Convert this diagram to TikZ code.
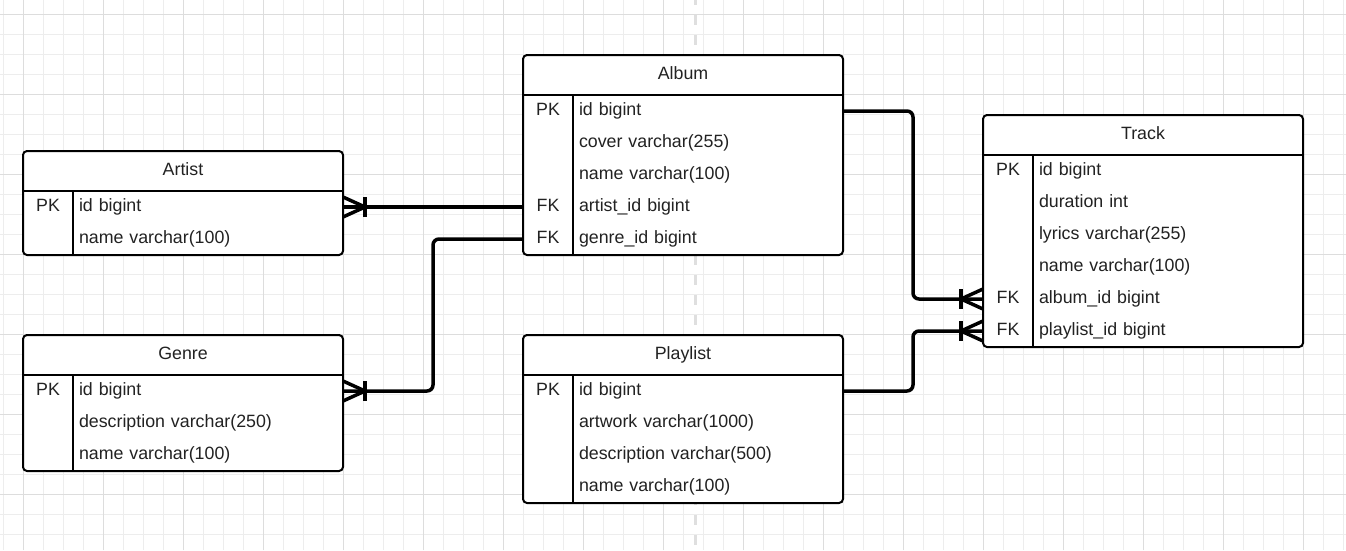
\documentclass[tikz,border=0pt]{standalone}
\usepackage{fontspec}
\setmainfont{Liberation Sans}
\usetikzlibrary{positioning,calc}

\definecolor{gridminor}{HTML}{EDEDED}
\definecolor{gridmajor}{HTML}{DDDDDD}
\definecolor{ink}{HTML}{222222}

\tikzset{
  tbl/.style={draw, fill=white, line width=2pt, rounded corners=4pt,
    minimum width=320, inner sep=0, outer sep=0, anchor=north west},
  title/.style={minimum width=320, minimum height=40, inner sep=0,
    outer sep=0, text height=12.5, text depth=3.5},
  key/.style={minimum width=50, minimum height=32, inner sep=0,
    outer sep=0, text height=12.5, text depth=3.5},
  field/.style={minimum height=32, text width=258, inner xsep=6,
    inner ysep=0, outer sep=0, align=left, text height=12.5, text depth=3.5},
  rule/.style={line width=2pt},
  link/.style={line width=3.5pt, rounded corners=6pt},
  crowfoot/.pic={
    \draw[line width=3.5pt] (0,-10) -- (22,0) -- (0,10);
    \draw[line width=3.5pt] (22,-10) -- (22,10);
  },
}

\begin{document}
\begin{tikzpicture}[x=1pt, y=-1pt, font=\fontsize{17.8}{21}\selectfont, text=ink]
  \useasboundingbox (0,0) rectangle (1346,550);

  % background grid
  \begin{scope}[shift={(3,14)}]
    \draw[gridminor, line width=1pt, step=20pt] (-3,-14) grid (1343,536);
  \end{scope}
  \begin{scope}[shift={(23,14)}]
    \draw[gridmajor, line width=1pt, step=80pt] (-23,-14) grid (1323,536);
  \end{scope}
  \draw[gray!25, line width=3pt, dash pattern=on 10pt off 10pt, dash phase=5pt]
    (695,0) -- (695,550);

  % Artist
  \node[tbl, minimum height=104] (artist) at (23,151) {};
  \node[title, below=0 of artist.north] (artistT) {Artist};
  \node[key, anchor=north west] (ar1k) at (artistT.south west) {PK};
  \node[field, right=0 of ar1k] (ar1) {id bigint};
  \node[key, below=0 of ar1k] (ar2k) {};
  \node[field, right=0 of ar2k] (ar2) {name varchar(100)};
  \draw[rule] (artistT.south west) -- (artistT.south east);
  \draw[rule] (ar1k.north east) -- (ar2k.south east);

  % Genre
  \node[tbl, minimum height=136] (genre) at (23,335) {};
  \node[title, below=0 of genre.north] (genreT) {Genre};
  \node[key, anchor=north west] (gn1k) at (genreT.south west) {PK};
  \node[field, right=0 of gn1k] (gn1) {id bigint};
  \node[key, below=0 of gn1k] (gn2k) {};
  \node[field, right=0 of gn2k] (gn2) {description varchar(250)};
  \node[key, below=0 of gn2k] (gn3k) {};
  \node[field, right=0 of gn3k] (gn3) {name varchar(100)};
  \draw[rule] (genreT.south west) -- (genreT.south east);
  \draw[rule] (gn1k.north east) -- (gn3k.south east);

  % Album
  \node[tbl, minimum height=200] (album) at (523,55) {};
  \node[title, below=0 of album.north] (albumT) {Album};
  \node[key, anchor=north west] (al1k) at (albumT.south west) {PK};
  \node[field, right=0 of al1k] (al1) {id bigint};
  \node[key, below=0 of al1k] (al2k) {};
  \node[field, right=0 of al2k] (al2) {cover varchar(255)};
  \node[key, below=0 of al2k] (al3k) {};
  \node[field, right=0 of al3k] (al3) {name varchar(100)};
  \node[key, below=0 of al3k] (al4k) {FK};
  \node[field, right=0 of al4k] (al4) {artist\_id bigint};
  \node[key, below=0 of al4k] (al5k) {FK};
  \node[field, right=0 of al5k] (al5) {genre\_id bigint};
  \draw[rule] (albumT.south west) -- (albumT.south east);
  \draw[rule] (al1k.north east) -- (al5k.south east);

  % Playlist
  \node[tbl, minimum height=168] (playlist) at (523,335) {};
  \node[title, below=0 of playlist.north] (playlistT) {Playlist};
  \node[key, anchor=north west] (pl1k) at (playlistT.south west) {PK};
  \node[field, right=0 of pl1k] (pl1) {id bigint};
  \node[key, below=0 of pl1k] (pl2k) {};
  \node[field, right=0 of pl2k] (pl2) {artwork varchar(1000)};
  \node[key, below=0 of pl2k] (pl3k) {};
  \node[field, right=0 of pl3k] (pl3) {description varchar(500)};
  \node[key, below=0 of pl3k] (pl4k) {};
  \node[field, right=0 of pl4k] (pl4) {name varchar(100)};
  \draw[rule] (playlistT.south west) -- (playlistT.south east);
  \draw[rule] (pl1k.north east) -- (pl4k.south east);

  % Track
  \node[tbl, minimum height=232] (track) at (983,115) {};
  \node[title, below=0 of track.north] (trackT) {Track};
  \node[key, anchor=north west] (tr1k) at (trackT.south west) {PK};
  \node[field, right=0 of tr1k] (tr1) {id bigint};
  \node[key, below=0 of tr1k] (tr2k) {};
  \node[field, right=0 of tr2k] (tr2) {duration int};
  \node[key, below=0 of tr2k] (tr3k) {};
  \node[field, right=0 of tr3k] (tr3) {lyrics varchar(255)};
  \node[key, below=0 of tr3k] (tr4k) {};
  \node[field, right=0 of tr4k] (tr4) {name varchar(100)};
  \node[key, below=0 of tr4k] (tr5k) {FK};
  \node[field, right=0 of tr5k] (tr5) {album\_id bigint};
  \node[key, below=0 of tr5k] (tr6k) {FK};
  \node[field, right=0 of tr6k] (tr6) {playlist\_id bigint};
  \draw[rule] (trackT.south west) -- (trackT.south east);
  \draw[rule] (tr1k.north east) -- (tr6k.south east);

  % relations
  \draw[link] (ar1.east) -- (al4k.west);
  \draw[link] (gn1.east) -- ++(90,0) |- (al5k.west);
  \draw[link] (al1.east) -- ++(70,0) |- (tr5k.west);
  \draw[link] (pl1.east) -- ++(70,0) |- (tr6k.west);

  \pic at (ar1.east) {crowfoot};
  \pic at (gn1.east) {crowfoot};
  \pic[xscale=-1] at (tr5k.west) {crowfoot};
  \pic[xscale=-1] at (tr6k.west) {crowfoot};
\end{tikzpicture}
\end{document}
